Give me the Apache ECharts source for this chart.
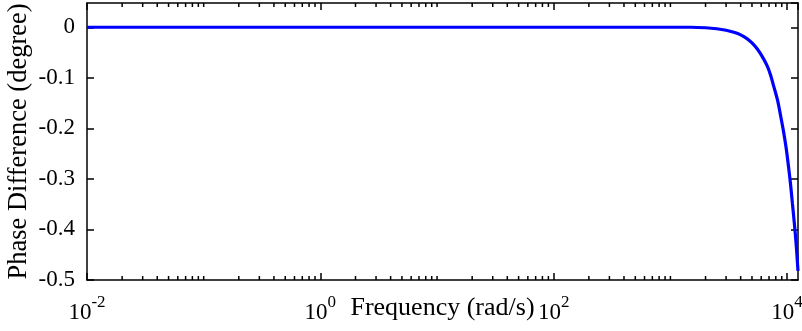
<!DOCTYPE html>
<html>
<head>
<meta charset="utf-8">
<script src="https://cdn.jsdelivr.net/npm/echarts@6/dist/echarts.min.js"></script>
<style>
html,body{margin:0;padding:0;background:#fff;}
#main{width:802px;height:331px;}
</style>
</head>
<body>
<div id="main"></div>
<script>
// frequency (rad/s) and phase difference (degree)
var freq  = [0.01, 0.1, 1, 10, 100, 500, 1000, 1500, 2000, 2500, 3000, 3500, 4000, 4560, 5000, 5556, 6200, 6764, 7200, 7709, 8300, 8796, 9300, 9800, 10300, 10720, 11100, 11440, 11900, 12400];
var phase = [0, 0, 0, 0, 0, 0, 0, 0, -0.001, -0.003, -0.006, -0.010, -0.015, -0.023, -0.031, -0.043, -0.060, -0.077, -0.094, -0.118, -0.145, -0.175, -0.205, -0.238, -0.277, -0.312, -0.348, -0.379, -0.423, -0.482];

var xMin = 0.01, xMax = 12400;
var yMin = -0.5, yMax = 0.048;

// minor tick positions on the log axis (k * 10^n, not the labelled decades)
var minorTicks = [];
for (var n = -2; n <= 4; n++) {
	for (var k = 1; k <= 9; k++) {
		var v = k * Math.pow(10, n);
		if (k == 1 && n % 2 == 0) continue;
		if (v > xMax) continue;
		minorTicks.push([v, yMin]);
	}
}

var chart = echarts.init(document.getElementById('main'));
var font = '"Liberation Serif", "Times New Roman", serif';

function xAxisCfg(pos){
	return {
		type:'log',
		logBase:10,
		position:pos,
		min:xMin,
		max:xMax,
		interval:2,
		axisLine:{show:true,onZero:false,lineStyle:{color:'#000',width:1.5}},
		axisTick:{show:true,inside:true,length:7,lineStyle:{color:'#000',width:1.5}},
		splitLine:{show:false},
		axisLabel:{show:false}
	};
}
function yAxisCfg(pos){
	return {
		type:'value',
		position:pos,
		min:yMin,
		max:yMax,
		interval:0.1,
		axisLine:{show:true,onZero:false,lineStyle:{color:'#000',width:1.5}},
		axisTick:{show:true,inside:true,length:7,lineStyle:{color:'#000',width:1.5}},
		splitLine:{show:false},
		axisLabel:{show:false}
	};
}

var xb = xAxisCfg('bottom');
xb.axisLabel = {
	show:true,
	showMaxLabel:false,
	margin:14,
	color:'#000',
	fontFamily:font,
	formatter:function(val){
		var e = Math.round(Math.log(val)/Math.LN10);
		return '{b|10}{s|' + e + '}';
	},
	rich:{
		b:{fontSize:23,fontFamily:font,color:'#000',lineHeight:30,verticalAlign:'bottom'},
		s:{fontSize:17,fontFamily:font,color:'#000',verticalAlign:'top',lineHeight:15}
	}
};
xb.name = 'Frequency (rad/s)';
xb.nameLocation = 'middle';
xb.nameGap = 15;
xb.nameMoveOverlap = false;
xb.nameTextStyle = {fontSize:26,fontFamily:font,color:'#000',verticalAlign:'top'};

var yl = yAxisCfg('left');
yl.axisLabel = {
	show:true,
	showMaxLabel:false,
	margin:12,
	color:'#000',
	fontSize:23,
	fontFamily:font,
	formatter:function(val){
		if (Math.abs(val) < 1e-9) return '0';
		return String(Math.round(val*10)/10);
	}
};
yl.name = 'Phase Difference (degree)';
yl.nameLocation = 'middle';
yl.nameGap = 54;
yl.nameMoveOverlap = false;
yl.nameTextStyle = {fontSize:26.5,fontFamily:font,color:'#000'};

var option = {
	animation:false,
	backgroundColor:'#fff',
	grid:{left:87,right:4,top:3,bottom:51,containLabel:false,outerBoundsMode:'none'},
	xAxis:[xb, xAxisCfg('top')],
	yAxis:[yl, yAxisCfg('right')],
	series:[{
		type:'line',
		data:freq.map(function(f,i){return [f,phase[i]];}),
		smooth:0.3,
		showSymbol:false,
		lineStyle:{color:'#0000ff',width:3.2},
		z:3
	},{
		type:'custom',
		data:minorTicks,
		z:4,
		renderItem:function(params,api){
			var v = api.value(0);
			var pb = api.coord([v,yMin]);
			var pt = api.coord([v,yMax]);
			return {
				type:'group',
				children:[
					{type:'line',shape:{x1:pb[0],y1:pb[1],x2:pb[0],y2:pb[1]-4},style:{stroke:'#000',lineWidth:1.5}},
					{type:'line',shape:{x1:pt[0],y1:pt[1],x2:pt[0],y2:pt[1]+4},style:{stroke:'#000',lineWidth:1.5}}
				]
			};
		}
	}]
};
chart.setOption(option);
</script>
</body>
</html>
